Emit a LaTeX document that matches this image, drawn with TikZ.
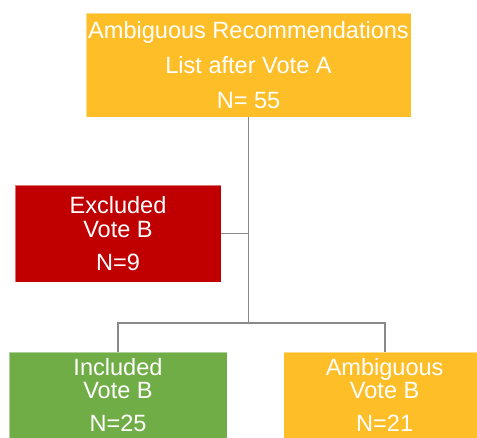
\documentclass[tikz,border=0pt]{standalone}
\usepackage{fontspec}
\setmainfont{Liberation Sans}
\usepackage{xcolor}
\usetikzlibrary{positioning}

\definecolor{votegold}{RGB}{254,190,40}
\definecolor{votered}{RGB}{192,0,0}
\definecolor{votegreen}{RGB}{112,173,71}
\definecolor{linkgray}{RGB}{137,137,137}

\begin{document}
\begin{tikzpicture}[
  x=0.02cm, y=0.02cm,
  every node/.style={font=\fontsize{13.4}{13.5}\selectfont, text=white},
  box/.style={rectangle, draw=white, draw opacity=0.45, line width=0.4pt,
              align=center, inner sep=0pt},
  root/.style={box, fill=votegold, minimum width=6.5cm, minimum height=2.08cm,
               font=\fontsize{13.4}{19.9}\selectfont},
  outc/.style={box, minimum width=4.36cm, minimum height=1.72cm},
  link/.style={draw=linkgray, line width=1.1pt},
]
  \useasboundingbox (0,0) rectangle (477,437);
  \clip (0,0) rectangle (477,437);

  \node[root] (list) at (248.5,372) {Ambiguous Recommendations\\List after Vote A\\N= 55};
  \node[outc, fill=votered, minimum width=4.12cm, minimum height=1.94cm] (excl) at (118,203.5)
    {Excluded\\Vote B\\[5.3pt]N=9};
  \node[outc, fill=votegreen] (incl) at (118,42) {Included\\Vote B\\[5.3pt]N=25};
  \node[outc, fill=votegold, minimum width=4.04cm, right=1.12cm of incl] (amb)
    {Ambiguous\\Vote B\\[5.3pt]N=21};

  \coordinate (bar) at (0,114);
  \coordinate (split) at (list.south |- bar);
  \coordinate (join) at (excl.east -| list.south);

  \draw[link] (list.south) -- (split);
  \draw[link] (excl.east) -- (join);
  \draw[link] (split) -| (incl.north);
  \draw[link] (split) -| (amb.north);

\end{tikzpicture}
\end{document}
